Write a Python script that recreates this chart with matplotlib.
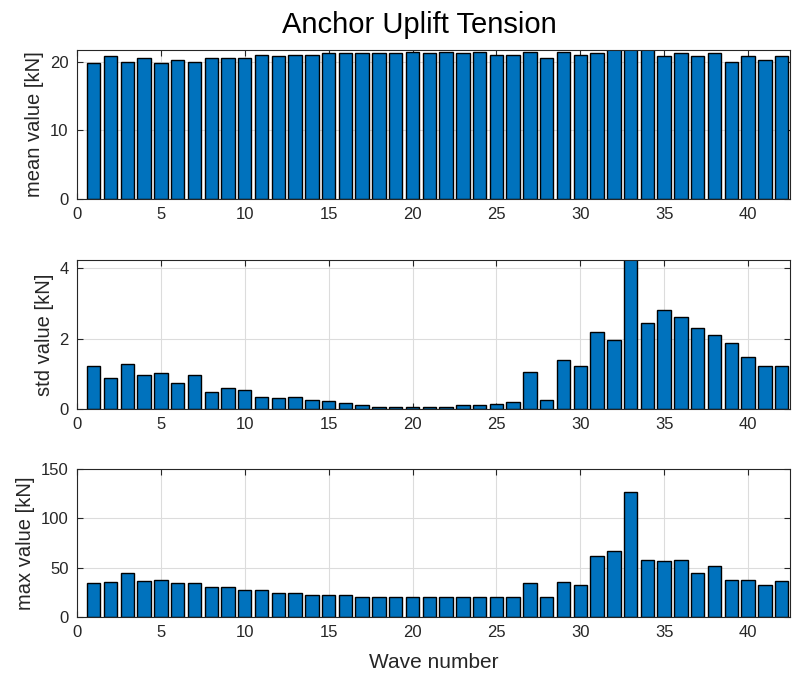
import numpy as np
import matplotlib
matplotlib.use("Agg")
import matplotlib.pyplot as plt

plt.rcParams['font.family'] = ['Liberation Sans', 'DejaVu Sans']

waves = list(range(1, 43))
mean_vals = [19.8, 20.8, 20.0, 20.5, 19.8, 20.3, 20.0, 20.5, 20.5, 20.5,
             21.0, 20.8, 21.0, 21.0, 21.2, 21.2, 21.2, 21.2, 21.2, 21.4,
             21.2, 21.4, 21.2, 21.4, 21.0, 21.0, 21.4, 20.5, 21.4, 21.0,
             21.2, 22.0, 22.0, 22.0, 20.8, 21.2, 20.8, 21.2, 20.0, 20.8,
             20.3, 20.8]
std_vals = [1.21, 0.87, 1.29, 0.97, 1.01, 0.73, 0.96, 0.49, 0.59, 0.54,
            0.35, 0.30, 0.35, 0.25, 0.22, 0.16, 0.11, 0.07, 0.07, 0.06,
            0.06, 0.06, 0.10, 0.10, 0.15, 0.20, 1.05, 0.25, 1.40, 1.21,
            2.20, 1.96, 4.50, 2.43, 2.81, 2.62, 2.29, 2.10, 1.87, 1.49,
            1.21, 1.21]
max_vals = [34.3, 35.6, 44.5, 36.0, 37.7, 34.3, 34.3, 30.9, 30.9, 27.5,
            27.5, 24.1, 24.1, 22.4, 22.4, 22.4, 20.7, 20.7, 20.7, 20.7,
            20.7, 20.7, 20.7, 20.7, 20.7, 20.7, 34.3, 20.7, 35.6, 32.6,
            61.4, 66.9, 126.3, 58.0, 56.3, 58.0, 44.5, 51.3, 37.7, 37.7,
            32.6, 36.0]

title = "Anchor Uplift Tension"
ylabels = ["mean value [kN]", "std value [kN]", "max value [kN]"]
xlabel = "Wave number"
xticks = [0, 5, 10, 15, 20, 25, 30, 35, 40]
yticks_list = [[0, 10, 20], [0, 2, 4], [0, 50, 100, 150]]
ylims = [(0, 21.7), (0, 4.23), (0, 150)]

W, H = 792, 673
fig = plt.figure(figsize=(W / 100, H / 100), dpi=100)
rects = [(77, 50, 199), (77, 260, 409), (77, 469, 617)]
txtc = '#262626'
for i, (vals, (l, t, b)) in enumerate(zip([mean_vals, std_vals, max_vals], rects)):
    ax = fig.add_axes([l / W, 1 - b / H, (790 - l) / W, (b - t) / H])
    ax.bar(waves, vals, width=0.8, color='#0072BD', edgecolor='black', linewidth=1.0, zorder=2)
    ax.set_xlim(0, 42.5)
    ax.set_ylim(*ylims[i])
    ax.set_xticks(xticks)
    ax.set_yticks(yticks_list[i])
    ax.grid(True, color='#dcdcdc', linewidth=0.8, zorder=0)
    ax.set_axisbelow(True)
    ax.tick_params(direction='in', top=True, right=True, length=4, width=0.8,
                   labelsize=12, colors=txtc, labelcolor=txtc, pad=6)
    for s in ax.spines.values():
        s.set_color('#262626')
        s.set_linewidth(0.8)
    ax.set_ylabel(ylabels[i], fontsize=14.5, color=txtc, labelpad=4)
    if i == 0:
        ax.set_title(title, fontsize=21, color='black', pad=12, x=0.48)
    if i == 2:
        ax.set_xlabel(xlabel, fontsize=15, color=txtc, labelpad=9)

fig.savefig("out.png", dpi=100)
